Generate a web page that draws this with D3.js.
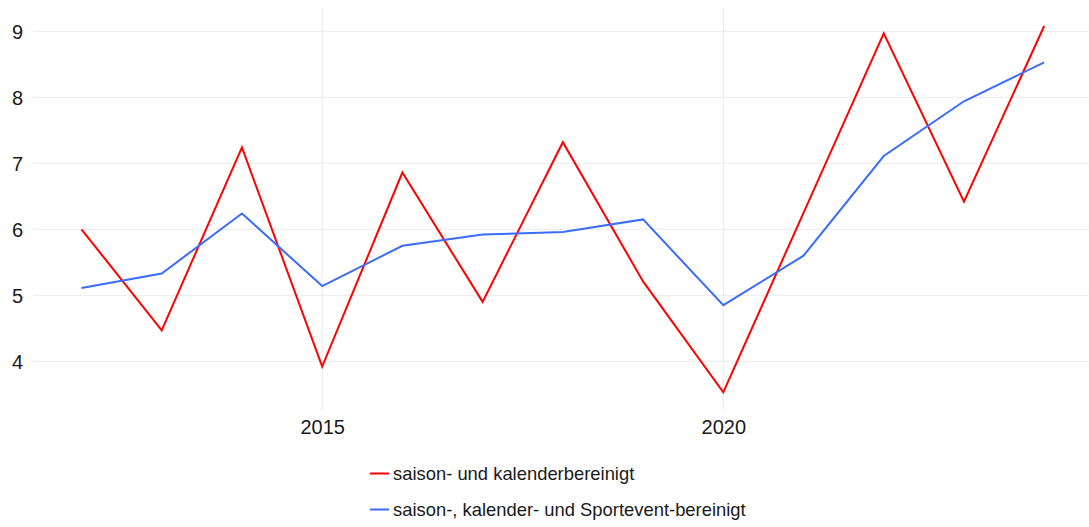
<!DOCTYPE html>
<html>
<head>
<meta charset="utf-8">
<script src="https://cdn.jsdelivr.net/npm/d3@7"></script>
<style>
  body { margin: 0; background: #fff; }
  text { font-family: "Liberation Sans", Arial, sans-serif; fill: #1a1a1a; }
</style>
</head>
<body>
<svg width="1089" height="527"></svg>
<script>
var years = [2012, 2013, 2014, 2015, 2016, 2017, 2018, 2019, 2020, 2021, 2022, 2023, 2024];
var kalender = [6.00, 4.47, 7.24, 3.92, 6.86, 4.90, 7.32, 5.21, 3.53, 6.25, 8.97, 6.42, 9.08];
var sportevent = [5.11, 5.33, 6.24, 5.14, 5.75, 5.92, 5.96, 6.15, 4.85, 5.60, 7.11, 7.94, 8.53];
var yTicks = [4, 5, 6, 7, 8, 9];
var xTicks = [2015, 2020];
var seriesNames = ["saison- und kalenderbereinigt", "saison-, kalender- und Sportevent-bereinigt"];
var colors = ["#ff0000", "#3b6cff"];

var svg = d3.select("svg");

var x = d3.scaleLinear().domain([2012, 2024]).range([81.5, 1044.2]);
var y = d3.scaleLinear().domain([4, 9]).range([361.3, 31.3]);

var grid = svg.append("g");

grid.selectAll(".hgrid")
    .data(yTicks)
    .enter().append("line")
        .attr("x1", 33)
        .attr("x2", 1089)
        .attr("y1", function(d) { return y(d); })
        .attr("y2", function(d) { return y(d); })
        .attr("stroke", "#ebebeb")
        .attr("stroke-width", 1);

grid.selectAll(".vgrid")
    .data(xTicks)
    .enter().append("line")
        .attr("x1", function(d) { return x(d); })
        .attr("x2", function(d) { return x(d); })
        .attr("y1", 8)
        .attr("y2", 410)
        .attr("stroke", "#ebebeb")
        .attr("stroke-width", 1);

// axes without domain lines and ticks
var yAxis = svg.append("g")
    .attr("transform", "translate(23,0)")
    .call(d3.axisLeft(y).tickValues(yTicks).tickFormat(d3.format("d")).tickSize(0).tickPadding(0));
yAxis.select(".domain").remove();
yAxis.selectAll("text")
    .style("font-size", "20px")
    .attr("fill", "#1a1a1a")
    .attr("dy", "0.36em");

var xAxis = svg.append("g")
    .attr("transform", "translate(0,420)")
    .call(d3.axisBottom(x).tickValues(xTicks).tickFormat(d3.format("d")).tickSize(0).tickPadding(0));
xAxis.select(".domain").remove();
xAxis.selectAll("text")
    .style("font-size", "20px")
    .attr("fill", "#1a1a1a")
    .attr("dy", "0.71em");

var line = d3.line()
    .x(function(d, i) { return x(years[i]); })
    .y(function(d) { return y(d); });

[kalender, sportevent].forEach(function(vals, i) {
    svg.append("path")
        .datum(vals)
        .attr("fill", "none")
        .attr("stroke", colors[i])
        .attr("stroke-width", 2)
        .attr("stroke-linejoin", "miter")
        .attr("d", line);
});

var legend = svg.selectAll(".legend")
    .data(seriesNames)
    .enter().append("g")
        .attr("class", "legend")
        .attr("transform", function(d, i) { return "translate(370," + (473.5 + i * 36) + ")"; });

legend.append("line")
    .attr("x1", 0)
    .attr("x2", 19)
    .attr("stroke", function(d, i) { return colors[i]; })
    .attr("stroke-width", 2);

legend.append("text")
    .attr("x", 23)
    .attr("dy", "0.36em")
    .style("font-size", "18.4px")
    .text(function(d) { return d; });
</script>
</body>
</html>
